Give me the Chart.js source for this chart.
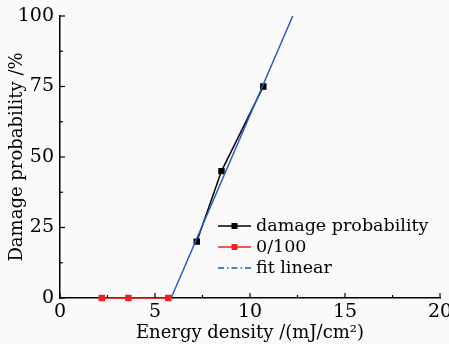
<!DOCTYPE html>
<html>
<head>
<meta charset="utf-8">
<script src="https://cdn.jsdelivr.net/npm/chart.js@4.4.0/dist/chart.umd.min.js"></script>
<style>
  html, body { margin: 0; padding: 0; background: #fafafa; }
  #wrap { width: 449px; height: 344px; position: relative; }
</style>
</head>
<body>
<div id="wrap"><canvas id="chart"></canvas></div>
<script>
// values
const damageX = [7.2, 8.5, 10.7];
const damageY = [20, 45, 75];
const zeroX = [2.2, 3.6, 5.7];
const zeroY = [0, 0, 0];
const fitX = [5.85, 12.25];
const fitY = [0, 100];

const xMajor = [0, 5, 10, 15, 20];
const xMinor = [2.5, 7.5, 12.5, 17.5];
const yMajor = [0, 25, 50, 75, 100];
const yMinor = [12.5, 37.5, 62.5, 87.5];

const legendItems = [
  { label: 'damage probability', color: '#000000', dash: [], marker: true },
  { label: '0/100', color: '#ee2222', dash: [], marker: true },
  { label: 'fit linear', color: '#2255bb', dash: [6, 3, 1.5, 3], marker: false }
];

const FONT = 'DejaVu Serif';

function pts(xs, ys) {
  return xs.map((x, i) => ({ x: x, y: ys[i] }));
}

// inward ticks, major + minor
const innerTicks = {
  id: 'innerTicks',
  afterDraw(chart) {
    const ctx = chart.ctx;
    const xs = chart.scales.x, ys = chart.scales.y;
    const a = chart.chartArea;
    ctx.save();
    ctx.strokeStyle = '#000';
    ctx.lineWidth = 1.2;
    const tick = (v, len, horiz) => {
      ctx.beginPath();
      if (horiz) {
        const p = xs.getPixelForValue(v);
        ctx.moveTo(p, a.bottom);
        ctx.lineTo(p, a.bottom - len);
      } else {
        const p = ys.getPixelForValue(v);
        ctx.moveTo(a.left, p);
        ctx.lineTo(a.left + len, p);
      }
      ctx.stroke();
    };
    xMajor.forEach(v => tick(v, 5, true));
    xMinor.forEach(v => tick(v, 3, true));
    yMajor.forEach(v => tick(v, 5, false));
    yMinor.forEach(v => tick(v, 3, false));
    ctx.restore();
  }
};

// legend drawn inside the plot
const innerLegend = {
  id: 'innerLegend',
  afterDraw(chart) {
    const ctx = chart.ctx;
    const x0 = 218, x1 = 251, rowY = [226, 247, 268];
    ctx.save();
    ctx.font = '17.5px "' + FONT + '"';
    ctx.textBaseline = 'middle';
    legendItems.forEach((it, i) => {
      const y = rowY[i];
      ctx.strokeStyle = it.color;
      ctx.lineWidth = 1.5;
      ctx.setLineDash(it.dash);
      ctx.beginPath();
      ctx.moveTo(x0, y);
      ctx.lineTo(x1, y);
      ctx.stroke();
      ctx.setLineDash([]);
      if (it.marker) {
        ctx.fillStyle = it.color;
        ctx.fillRect((x0 + x1) / 2 - 3, y - 3, 6, 6);
      }
      ctx.fillStyle = '#000';
      ctx.fillText(it.label, x1 + 5, y);
    });
    ctx.restore();
  }
};

new Chart(document.getElementById('chart'), {
  type: 'scatter',
  data: {
    datasets: [
      {
        label: 'fit linear',
        type: 'line',
        data: pts(fitX, fitY),
        borderColor: '#2a5cbf',
        borderWidth: 1.5,
        pointRadius: 0,
        fill: false
      },
      {
        label: 'damage probability',
        type: 'line',
        data: pts(damageX, damageY),
        borderColor: '#000',
        backgroundColor: '#000',
        borderWidth: 1.5,
        pointStyle: 'rect',
        pointRadius: 3.5,
        fill: false
      },
      {
        label: '0/100',
        type: 'line',
        data: pts(zeroX, zeroY),
        borderColor: '#ee2222',
        backgroundColor: '#ee2222',
        borderWidth: 1.5,
        pointStyle: 'rect',
        pointRadius: 3.5,
        fill: false,
        clip: false
      }
    ]
  },
  options: {
    responsive: true,
    maintainAspectRatio: false,
    animation: false,
    layout: { padding: { top: 16, right: 9, left: 0, bottom: 0 } },
    plugins: {
      legend: { display: false },
      tooltip: { enabled: false }
    },
    scales: {
      x: {
        type: 'linear',
        min: 0,
        max: 20,
        afterFit(s) { s.height = 46; s.paddingRight = 0; s.paddingLeft = 0; },
        afterBuildTicks(s) { s.ticks = xMajor.map(v => ({ value: v })); },
        grid: { display: false, drawTicks: false },
        border: { display: true, color: '#000', width: 1.5 },
        ticks: {
          color: '#000',
          padding: 3,
          maxRotation: 0,
          font: { family: FONT, size: 19 }
        },
        title: {
          display: true,
          text: 'Energy density /(mJ/cm²)',
          color: '#000',
          padding: { top: 0, bottom: 0 },
          font: { family: FONT, size: 18 }
        }
      },
      y: {
        type: 'linear',
        min: 0,
        max: 100,
        afterFit(s) { s.width = 60; s.paddingTop = 0; s.paddingBottom = 0; },
        afterBuildTicks(s) { s.ticks = yMajor.map(v => ({ value: v })); },
        grid: { display: false, drawTicks: false },
        border: { display: true, color: '#000', width: 1.5 },
        ticks: {
          color: '#000',
          padding: 6,
          font: { family: FONT, size: 19 }
        },
        title: {
          display: true,
          text: 'Damage probability /%',
          color: '#000',
          padding: { top: 7, bottom: 0 },
          font: { family: FONT, size: 18 }
        }
      }
    }
  },
  plugins: [innerTicks, innerLegend]
});
</script>
</body>
</html>
